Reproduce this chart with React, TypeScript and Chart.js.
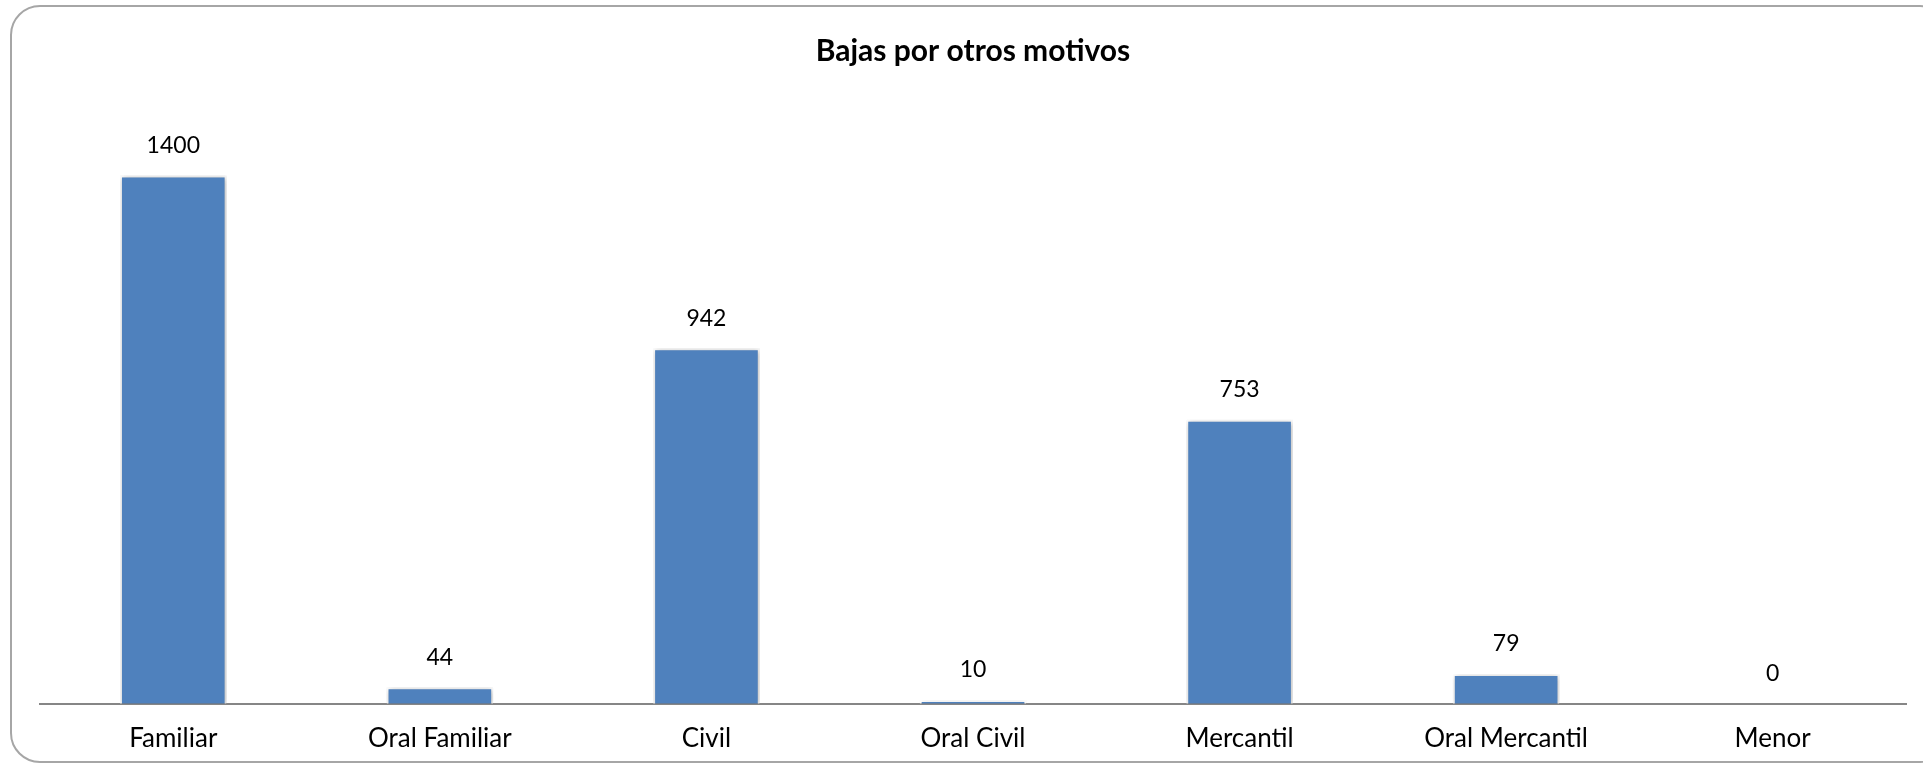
import React, { useEffect, useRef } from "react";
import { Chart, registerables } from "chart.js";

Chart.register(...registerables);

const chartTitle = "Bajas por otros motivos";
const categories = ["Familiar", "Oral Familiar", "Civil", "Oral Civil", "Mercantil", "Oral Mercantil", "Menor"];
const values = [1400, 44, 942, 10, 753, 79, 0];
const yMax = 1600;

const FONT = "Lato, 'Open Sans', sans-serif";

const shadowPlugin = {
  id: "barShadow",
  beforeDatasetDraw(chart: any) {
    const ctx = chart.ctx;
    ctx.save();
    ctx.shadowColor = "rgba(0,0,0,0.3)";
    ctx.shadowBlur = 6;
    ctx.shadowOffsetX = 1;
    ctx.shadowOffsetY = 1;
  },
  afterDatasetDraw(chart: any) {
    chart.ctx.restore();
  },
};

const valueLabelPlugin = {
  id: "valueLabels",
  afterDatasetsDraw(chart: any) {
    const ctx = chart.ctx;
    const meta = chart.getDatasetMeta(0);
    ctx.save();
    ctx.font = `23px ${FONT}`;
    ctx.fillStyle = "#000000";
    ctx.textAlign = "center";
    ctx.textBaseline = "middle";
    meta.data.forEach((el: any, i: number) => {
      ctx.fillText(String(values[i]), el.x, el.y - 30);
    });
    ctx.restore();
  },
};

export default function App() {
  const ref = useRef<HTMLCanvasElement | null>(null);

  useEffect(() => {
    if (!ref.current) return;
    const chart = new Chart(ref.current, {
      type: "bar",
      data: {
        labels: categories,
        datasets: [
          {
            data: values,
            backgroundColor: "#4F81BD",
            borderColor: "#FFFFFF",
            borderWidth: 2,
            borderSkipped: "bottom",
            categoryPercentage: 1,
            barPercentage: 0.4,
          },
        ],
      },
      options: {
        responsive: false,
        animation: false,
        layout: { padding: { left: 40, right: 17, top: 0, bottom: 14 } },
        plugins: {
          legend: { display: false },
          tooltip: { enabled: false },
          title: {
            display: true,
            text: chartTitle,
            color: "#000000",
            font: { family: FONT, size: 30, weight: "bold" },
            padding: { top: 33, bottom: 31 },
          },
        },
        scales: {
          x: {
            grid: { display: false, drawTicks: false },
            border: { display: true, color: "#868686", width: 2 },
            ticks: {
              color: "#000000",
              font: { family: FONT, size: 26 },
              padding: 19,
              maxRotation: 0,
              autoSkip: false,
            },
          },
          y: {
            display: false,
            min: 0,
            max: yMax,
          },
        },
      },
      plugins: [shadowPlugin, valueLabelPlugin],
    });
    return () => chart.destroy();
  }, []);

  return (
    <div
      style={{
        position: "fixed",
        left: 0,
        top: 0,
        width: 1923,
        height: 767,
        overflow: "hidden",
        background: "#ffffff",
      }}
    >
      <div
        style={{
          position: "absolute",
          left: 10,
          top: 5,
          width: 1940,
          height: 758,
          border: "2px solid #a6a6a6",
          borderRadius: 30,
          boxSizing: "border-box",
        }}
      />
      <canvas
        ref={ref}
        width={1923}
        height={787}
        style={{ position: "absolute", left: 0, top: 0, width: 1923, height: 787 }}
      />
    </div>
  );
}
